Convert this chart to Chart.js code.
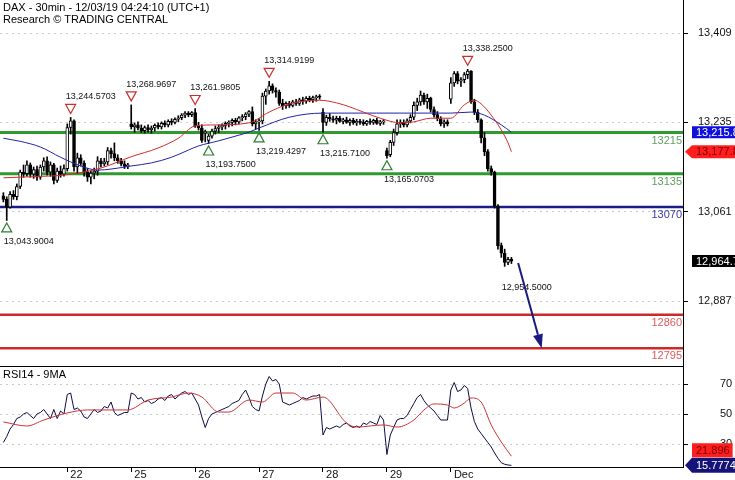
<!DOCTYPE html>
<html><head><meta charset="utf-8">
<script src="https://cdn.jsdelivr.net/npm/chart.js@4.4.0/dist/chart.umd.min.js"></script>
<style>
html,body{margin:0;padding:0;background:#fff;overflow:hidden}
#wrap{position:relative;width:735px;height:480px;background:#fff}
#c1{position:absolute;left:0;top:0}
#c2{position:absolute;left:0;top:366px}
</style>
</head><body>
<div id="wrap"><canvas id="c1" width="735" height="366"></canvas><canvas id="c2" width="735" height="114"></canvas></div>
<script>
// ---------- DATA ----------
const titleLines = ['DAX - 30min - 12/03/19 04:24:10 (UTC+1)', 'Research \u00A9 TRADING CENTRAL'];
const rsiTitle = 'RSI14 - 9MA';
const priceTicks = [13409, 13235, 13061, 12887];
const rsiTicks = [70, 50, 30];
const dayStarts = [19, 38, 57, 76, 95, 114, 133];
const dayLabels = ['22', '25', '26', '27', '28', '29', 'Dec'];

const opens = [
 13092,13085,13070,13095,13090,13110,13138,13135,13152,13134,13143,13128,13148,13160,13138,13152,13122,13140,13134,
 13145,13225,13238,13148,13166,13155,13138,13128,13136,13140,13160,13154,13158,13180,13174,13166,13160,13154,13149,
 13232,13226,13230,13224,13219,13225,13220,13224,13229,13226,13233,13230,13237,13235,13241,13244,13249,13253,13250,
 13254,13228,13224,13215,13200,13208,13218,13223,13226,13229,13233,13235,13239,13236,13244,13246,13251,13256,13232,
 13236,13238,13286,13296,13306,13297,13294,13272,13267,13272,13268,13275,13272,13279,13276,13282,13279,13283,13285,
 13255,13235,13245,13242,13239,13243,13237,13240,13235,13239,13234,13237,13235,13232,13237,13235,13239,13233,13236,
 13180,13172,13196,13215,13232,13235,13230,13238,13245,13268,13275,13288,13275,13282,13260,13250,13242,13232,13236,
 13280,13312,13330,13315,13318,13328,13335,13275,13255,13240,13205,13178,13145,13138,13072,12995,12980,12962,12968];
const highs = [
 13098,13090,13100,13102,13115,13142,13152,13160,13156,13148,13150,13152,13166,13168,13158,13155,13146,13150,13152,
 13232,13244.5703,13240,13175,13172,13160,13145,13140,13146,13168,13165,13165,13186,13185,13195,13172,13165,13160,13155,
 13268.9697,13234,13236,13230,13228,13230,13228,13232,13234,13236,13238,13240,13242,13244,13248,13252,13256,13256,13256,
 13261.9805,13235,13230,13220,13212,13222,13228,13230,13232,13236,13238,13242,13243,13246,13250,13254,13258,13265,13240,
 13242,13292,13300,13314.9199,13310,13302,13298,13280,13275,13276,13278,13280,13282,13284,13285,13286,13286,13288,13289,
 13262,13249,13252,13247,13247,13247,13243,13245,13242,13243,13241,13241,13240,13239,13242,13241,13243,13239,13241,
 13185,13200,13222,13240,13240,13240,13242,13250,13275,13282,13296,13292,13290,13284,13265,13256,13246,13240,13240,
 13322,13334,13334,13322,13332,13338.25,13336,13280,13260,13242,13215,13182,13150,13140,13075,13000,12988,12972,12972];
const lows = [
 13080,13043.9004,13068,13085,13084,13106,13128,13130,13128,13126,13122,13124,13140,13132,13130,13115,13118,13128,13130,
 13140,13212,13140,13135,13150,13130,13120,13115,13125,13132,13148,13150,13152,13165,13160,13155,13150,13145,13145,
 13222,13216,13220,13215,13214,13216,13214,13218,13222,13222,13226,13226,13230,13232,13236,13240,13244,13246,13246,
 13225,13220,13196,13197,13193.75,13204,13212,13215,13220,13222,13226,13228,13230,13232,13238,13240,13246,13228,13222,
 13219.4297,13232,13270,13290,13292,13284,13268,13260,13262,13264,13265,13268,13268,13270,13272,13275,13274,13276,13280,
 13215.71,13229,13237,13235,13232,13235,13232,13233,13229,13231,13229,13231,13229,13229,13231,13231,13231,13229,13231,
 13165.0703,13168,13190,13210,13225,13226,13226,13234,13240,13258,13268,13270,13262,13255,13245,13238,13228,13225,13228,
 13272,13305,13310,13305,13312,13320,13272,13250,13235,13195,13170,13140,13132,13068,12988,12972,12954.5,12958,12960];
const closes = [
 13085,13070,13095,13090,13110,13138,13135,13152,13134,13143,13128,13148,13160,13138,13152,13122,13140,13134,13145,
 13225,13238,13148,13166,13155,13138,13128,13136,13140,13160,13154,13158,13180,13174,13166,13160,13154,13149,13152,
 13226,13230,13224,13219,13225,13220,13224,13229,13226,13233,13230,13237,13235,13241,13244,13249,13253,13250,13254,
 13228,13224,13200,13215,13208,13218,13223,13226,13229,13233,13235,13239,13236,13244,13246,13251,13256,13232,13236,
 13238,13286,13296,13306,13297,13294,13272,13267,13272,13268,13275,13272,13279,13276,13282,13279,13283,13285,13284,
 13235,13245,13242,13239,13243,13237,13240,13235,13239,13234,13237,13235,13232,13237,13235,13239,13233,13236,13238,
 13170,13196,13215,13232,13235,13230,13238,13245,13268,13275,13288,13275,13282,13260,13250,13242,13232,13236,13232,
 13312,13330,13315,13318,13328,13335,13275,13255,13240,13205,13178,13145,13138,13072,12995,12980,12962,12968,12964.7];

const fastMaBars = [0,8,19,29,38,46,52,57,63,73,79,84,90,94,99,103,107,112,118,122,127,133,137,140,142,145,148,150,151];
const fastMaValues = [13127,13129,13133,13146,13168,13185,13204,13228,13230,13234,13255,13269,13277,13278,13273,13265,13255,13243,13234,13236,13243,13243,13269,13278,13271,13249,13220,13195,13177.8];
const slowMaBars = [0,5,11,17,23,28,32,38,44,50,55,58,64,70,73,76,85,95,111,133,139,143,148,151];
const slowMaValues = [13204,13198,13187,13167,13150,13142,13144,13150,13156,13167,13181,13189,13199,13210,13216,13224,13245,13253,13253,13253,13255,13249,13230,13215.8];

const rsiValues = [
 31,35,40,43,47,48,50,51,49,47,50,51,53,50,47,53,47,52,50,
 63,64,53,54,52,48,47,50,53,51,52,55,54,58,51,49,50,51,51,
 64,63,60,61,58,59,57,58,60,61,59,62,63,60,62,64,65,63,64,
 60,56,48,41,47,50,51,52,53,54,55,57,58,59,63,66,61,55,53,
 52,62,70,75,72,73,70,58,57,56,57,58,59,61,60,61,62,62,63,
 36,41,40,41,42,41,43,44,42,41,42,41,44,43,45,44,43,49,46,
 23,36,41,46,47,47,49,53,57,61,63,59,56,54,52,49,46,46,46,
 66,71,65,66,69,67,54,45,40,37,34,31,28,24,20.5,17.5,16.5,16,15.7774];
const rsiMaBars = [0,7,12,19,25,32,37,43,50,55,59,64,67,73,77,81,86,90,95,102,105,113,117,122,125,128,132,134,137,139,142,145,148,151];
const rsiMaValues = [44.7,42,46,50.7,52.7,52.7,52.7,59.3,61.3,64,61.3,51.3,51.3,59.3,58,64,64,59.3,61.3,44,41.3,42.7,41.3,46,52.7,56.7,56,54,57.3,60.7,58,42.7,31.3,21.896];

const levels = [13215, 13135, 13070, 12860, 12795];
const levelKinds = ['green', 'green', 'navy', 'red', 'red'];
const peakBars = [20, 38, 57, 79, 138];
const peakPrices = [13244.5703, 13268.9697, 13261.9805, 13314.9199, 13338.25];
const troughBars = [1, 61, 76, 95, 114];
const troughPrices = [13043.9004, 13193.75, 13219.4297, 13215.71, 13165.0703];
const lastLowBar = 149, lastLowPrice = 12954.5;
const arrowFrom = {bar: 153, price: 12961};
const arrowTo = {bar: 160, price: 12795};
const lastPrice = 12964.7, fastLast = 13177.8, slowLast = 13215.8;
const rsiLast = 15.7774, rsiMaLast = 21.896;

// ---------- RENDER ----------
Chart.defaults.font.family = 'Arial, "Liberation Sans", sans-serif';
Chart.defaults.font.size = 11;
Chart.defaults.color = '#000';

const X_MIN = -1, X_MAX = 202;
const Y_MIN = 12760.4, Y_MAX = 13473.3;
const R_MIN = 14.667, R_MAX = 82;
const AXIS_W = 52;
const bars = opens.map((o, i) => i);
const FONT = 'Arial, "Liberation Sans", sans-serif';
const colors = {
  green: {line: '#2f9a2f', text: '#5f9f5f', w: 3},
  navy: {line: '#1c1c88', text: '#3a3aa6', w: 2.5},
  red: {line: '#cc2a2a', text: '#e05a5a', w: 2.5}
};
const fmt4 = v => v.toLocaleString('en-US', {minimumFractionDigits: 4, maximumFractionDigits: 4});
const fmt1 = v => v.toLocaleString('en-US', {minimumFractionDigits: 1, maximumFractionDigits: 1});

function valueBox(ctx, area, y, text, bg, fg, arrow, h) {
  ctx.save();
  ctx.font = '11px ' + FONT;
  const tw = ctx.measureText(text).width;
  const x0 = area.right + 9, tx = area.right + 13;
  const x1 = tx + tw + 3;
  ctx.fillStyle = bg;
  ctx.beginPath();
  if (arrow) {
    ctx.moveTo(area.right + 2, y);
    ctx.lineTo(x0, y - h / 2);
    ctx.lineTo(x1, y - h / 2);
    ctx.lineTo(x1, y + h / 2);
    ctx.lineTo(x0, y + h / 2);
    ctx.closePath();
  } else {
    ctx.rect(x0, y - h / 2, x1 - x0, h);
  }
  ctx.fill();
  ctx.fillStyle = fg;
  ctx.textBaseline = 'middle';
  ctx.textAlign = 'left';
  ctx.fillText(text, tx, y + 0.5);
  ctx.restore();
}

function triangle(ctx, x, cy, down, color) {
  ctx.beginPath();
  if (down) { ctx.moveTo(x - 5, cy - 4.5); ctx.lineTo(x + 5, cy - 4.5); ctx.lineTo(x, cy + 4.5); }
  else { ctx.moveTo(x - 5, cy + 4.5); ctx.lineTo(x + 5, cy + 4.5); ctx.lineTo(x, cy - 4.5); }
  ctx.closePath();
  ctx.fillStyle = '#fff'; ctx.fill();
  ctx.strokeStyle = color; ctx.lineWidth = 1.2; ctx.stroke();
}

const mainOverlay = {
  id: 'mainOverlay',
  beforeDatasetsDraw(chart) {
    const {ctx, chartArea: a, scales: {y}} = chart;
    ctx.save();
    levels.forEach((lv, k) => {
      const c = colors[levelKinds[k]];
      const py = y.getPixelForValue(lv);
      ctx.strokeStyle = c.line; ctx.lineWidth = c.w;
      ctx.beginPath(); ctx.moveTo(a.left, py); ctx.lineTo(a.right, py); ctx.stroke();
    });
    ctx.restore();
  },
  afterDraw(chart) {
    const {ctx, chartArea: a, scales: {x, y}} = chart;
    ctx.save();
    ctx.font = '11px ' + FONT; ctx.textAlign = 'right'; ctx.textBaseline = 'middle';
    levels.forEach((lv, k) => {
      ctx.fillStyle = colors[levelKinds[k]].text;
      ctx.fillText(String(lv), a.right - 1, y.getPixelForValue(lv) + 8);
    });
    ctx.font = '9px ' + FONT; ctx.textAlign = 'left';
    peakBars.forEach((b, k) => {
      const px = x.getPixelForValue(b), py = y.getPixelForValue(peakPrices[k]);
      triangle(ctx, px, py - 8.5, true, '#c8302c');
      ctx.fillStyle = '#111'; ctx.fillText(fmt4(peakPrices[k]), px - 5, py - 20.5);
    });
    troughBars.forEach((b, k) => {
      const px = x.getPixelForValue(b), py = y.getPixelForValue(troughPrices[k]);
      triangle(ctx, px, py + 7, false, '#2e7d32');
      ctx.fillStyle = '#111'; ctx.fillText(fmt4(troughPrices[k]), px - 3, py + 21);
    });
    {
      const px = x.getPixelForValue(lastLowBar), py = y.getPixelForValue(lastLowPrice);
      ctx.fillStyle = '#111'; ctx.fillText(fmt4(lastLowPrice), px - 3, py + 21);
    }
    const x0 = x.getPixelForValue(arrowFrom.bar), y0 = y.getPixelForValue(arrowFrom.price);
    const x1 = x.getPixelForValue(arrowTo.bar), y1 = y.getPixelForValue(arrowTo.price);
    const ang = Math.atan2(y1 - y0, x1 - x0), L = 14, W = 5;
    const bx = x1 - L * Math.cos(ang), by = y1 - L * Math.sin(ang);
    ctx.strokeStyle = '#1a1a80'; ctx.lineWidth = 2;
    ctx.beginPath(); ctx.moveTo(x0, y0); ctx.lineTo(bx, by); ctx.stroke();
    ctx.fillStyle = '#1a1a80';
    ctx.beginPath(); ctx.moveTo(x1, y1);
    ctx.lineTo(bx + W * Math.sin(ang), by - W * Math.cos(ang));
    ctx.lineTo(bx - W * Math.sin(ang), by + W * Math.cos(ang));
    ctx.closePath(); ctx.fill();
    ctx.font = '11px ' + FONT; ctx.fillStyle = '#000'; ctx.textAlign = 'left'; ctx.textBaseline = 'middle';
    ctx.fillText(titleLines[0], 3, 8);
    ctx.fillText(titleLines[1], 3, 20);
    ctx.restore();
    valueBox(ctx, a, y.getPixelForValue(slowLast), fmt1(slowLast), '#1010dc', '#fff', false, 12);
    valueBox(ctx, a, y.getPixelForValue(fastLast), fmt1(fastLast), '#ff1e1e', '#7a0000', true, 13);
    valueBox(ctx, a, y.getPixelForValue(lastPrice), fmt1(lastPrice), '#000', '#fff', false, 12);
  }
};

new Chart(document.getElementById('c1'), {
  type: 'bar',
  data: {
    datasets: [
      {type: 'line', data: fastMaBars.map((b, k) => ({x: b, y: fastMaValues[k]})), borderColor: '#d42a2a', borderWidth: 1, pointRadius: 0, cubicInterpolationMode: 'monotone', order: 0},
      {type: 'line', data: slowMaBars.map((b, k) => ({x: b, y: slowMaValues[k]})), borderColor: '#2222a8', borderWidth: 1, pointRadius: 0, cubicInterpolationMode: 'monotone', order: 1},
      {type: 'bar', data: bars.map(i => ({x: i, y: [opens[i], closes[i]]})), backgroundColor: bars.map(i => closes[i] >= opens[i] ? '#fff' : '#000'), borderColor: '#000', borderWidth: 1, borderSkipped: false, barThickness: 3, grouped: false, minBarLength: 1, order: 2},
      {type: 'bar', data: bars.map(i => ({x: i, y: [lows[i], highs[i]]})), backgroundColor: '#000', barThickness: 1, grouped: false, order: 3}
    ]
  },
  options: {
    responsive: false, animation: false, devicePixelRatio: 1,
    layout: {padding: 0, autoPadding: false},
    plugins: {legend: {display: false}, tooltip: {enabled: false}},
    scales: {
      x: {type: 'linear', min: X_MIN, max: X_MAX, offset: false, display: false},
      y: {
        type: 'linear', position: 'right', min: Y_MIN, max: Y_MAX,
        afterBuildTicks: s => { s.ticks = priceTicks.map(v => ({value: v})); },
        afterFit: s => { s.width = AXIS_W; s.paddingTop = 0; s.paddingBottom = 0; },
        ticks: {padding: 10, color: '#111', font: {size: 11}, callback: v => v.toLocaleString('en-US')},
        grid: {color: '#cccccc', tickColor: '#000', tickLength: 5},
        border: {color: '#000', width: 1, dash: [2, 4]}
      }
    }
  },
  plugins: [mainOverlay]
});

const rsiOverlay = {
  id: 'rsiOverlay',
  afterDraw(chart) {
    const {ctx, chartArea: a, scales: {y}} = chart;
    ctx.save();
    ctx.strokeStyle = '#000'; ctx.lineWidth = 1;
    ctx.beginPath(); ctx.moveTo(a.left, a.top + 0.5); ctx.lineTo(a.right, a.top + 0.5); ctx.stroke();
    ctx.font = '11px ' + FONT; ctx.fillStyle = '#000'; ctx.textAlign = 'left'; ctx.textBaseline = 'middle';
    ctx.fillText(rsiTitle, 3, a.top + 9);
    ctx.restore();
    const yLast = y.getPixelForValue(rsiLast);
    const yMa = Math.min(y.getPixelForValue(rsiMaLast), yLast - 15);
    valueBox(ctx, a, yMa, String(rsiMaLast), '#ff1e1e', '#7a0000', false, 14);
    valueBox(ctx, a, yLast, String(rsiLast), '#141478', '#fff', true, 15);
  }
};

new Chart(document.getElementById('c2'), {
  type: 'line',
  data: {
    datasets: [
      {data: rsiMaBars.map((b, k) => ({x: b, y: rsiMaValues[k]})), borderColor: '#cc3333', borderWidth: 1, pointRadius: 0, cubicInterpolationMode: 'monotone', order: 0},
      {data: rsiValues.map((v, i) => ({x: i, y: v})), borderColor: '#0c0c44', borderWidth: 1, pointRadius: 0, tension: 0, order: 1}
    ]
  },
  options: {
    responsive: false, animation: false, devicePixelRatio: 1,
    layout: {padding: 0, autoPadding: false},
    plugins: {legend: {display: false}, tooltip: {enabled: false}},
    scales: {
      x: {
        type: 'linear', min: X_MIN, max: X_MAX, offset: false,
        afterBuildTicks: s => { s.ticks = dayStarts.map(v => ({value: v})); },
        afterFit: s => { s.height = 13; s.paddingLeft = 0; s.paddingRight = 0; },
        ticks: {align: 'start', padding: -4, autoSkip: false, maxRotation: 0, color: '#111', font: {size: 11},
                callback: v => ' ' + dayLabels[dayStarts.indexOf(v)]},
        grid: {drawOnChartArea: false, tickLength: 5, tickColor: '#000'},
        border: {color: '#000', width: 1}
      },
      y: {
        type: 'linear', position: 'right', min: R_MIN, max: R_MAX,
        afterBuildTicks: s => { s.ticks = rsiTicks.map(v => ({value: v})); },
        afterFit: s => { s.width = AXIS_W; s.paddingTop = 0; s.paddingBottom = 0; },
        ticks: {padding: 32, color: '#111', font: {size: 11}},
        grid: {color: '#cccccc', tickColor: '#000', tickLength: 5},
        border: {color: '#000', width: 1, dash: [2, 4]}
      }
    }
  },
  plugins: [rsiOverlay]
});
</script>
</body></html>
